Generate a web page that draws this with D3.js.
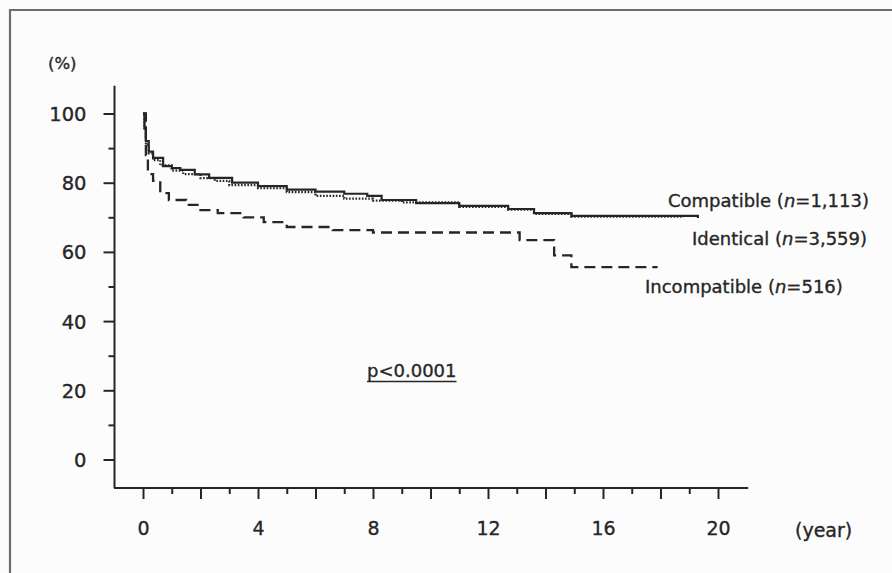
<!DOCTYPE html>
<html>
<head>
<meta charset="utf-8">
<script src="https://cdn.jsdelivr.net/npm/d3@7"></script>
<style>
  html, body { margin: 0; padding: 0; background: #fcfcfc; }
  svg { display: block; }
  text { font-family: "DejaVu Sans", "Liberation Sans", sans-serif; fill: #262626; stroke: #262626; stroke-width: 0.35px; }
</style>
</head>
<body>
<svg id="chart" width="892" height="573"></svg>
<script>
// Survival (%) by year, Kaplan-Meier style step curves
const compatibleYears = [0, 0.05, 0.1, 0.2, 0.35, 0.7, 1.0, 1.3, 1.8, 2.3, 3.1, 4, 5, 6, 7, 7.8, 8.3, 9.5, 11.0, 12.7, 13.6, 14.9, 19.3];
const compatibleValues = [100, 96, 92, 89, 87.2, 84.8, 84.2, 83.7, 82.4, 81.4, 80, 79, 78, 77.4, 76.8, 76.2, 75.0, 74.1, 73.3, 72.4, 71.2, 70.4, 69.8];

const identicalYears = [0, 0.05, 0.1, 0.2, 0.35, 0.6, 1.0, 1.4, 2.0, 2.5, 3.0, 4, 5, 6, 7, 8, 9, 11.0, 12.7, 13.6, 14.9, 18.8];
const identicalValues = [100, 95, 91, 88.5, 86.5, 85, 83.5, 82.5, 81.3, 80.5, 79.3, 78.4, 77.3, 76.2, 75.4, 74.8, 74.3, 73.0, 72.2, 71.0, 70.2, 70.2];

const incompatibleYears = [0, 0.1, 0.17, 0.35, 0.6, 0.9, 1.5, 2.0, 2.6, 3.5, 4.2, 5.0, 6.6, 8.0, 13.1, 14.3, 14.9, 17.9];
const incompatibleValues = [100, 88, 82.5, 80.5, 77, 75, 73.6, 72.1, 71.2, 70.0, 68.6, 67.2, 66.3, 65.6, 63.4, 59.0, 55.6, 55.6];

const seriesNames = ["Compatible", "Identical", "Incompatible"];
const seriesN = ["1,113", "3,559", "516"];

const yMajorTicks = [0, 20, 40, 60, 80, 100];
const yMinorTicks = [10, 30, 50, 70, 90];
const xMajorTicks = [0, 2, 4, 6, 8, 10, 12, 14, 16, 18, 20];
const xMinorTicks = [1, 3, 5, 7, 9, 11, 13, 15, 17, 19];
const xLabelTicks = [0, 4, 8, 12, 16, 20];

const pText = "p<0.0001";

const svg = d3.select("#chart");

// outer frame (top and left edges)
svg.append("path")
  .attr("d", "M10,573 L10,10 L892,10")
  .attr("fill", "none").attr("stroke", "#6e6e6e").attr("stroke-width", 2.2);

const x = d3.scaleLinear().domain([0, 20]).range([143, 718]);
const y = d3.scaleLinear().domain([0, 100]).range([459.5, 113.5]);

const ink = "#262626";
const fontFam = "'DejaVu Sans', 'Liberation Sans', sans-serif";

// axis lines
const axisX1 = x(21.05);
const axisY0 = y(108), axisY1 = 488;
svg.append("line").attr("x1", 114.5).attr("x2", 114.5).attr("y1", axisY0).attr("y2", axisY1)
  .attr("stroke", ink).attr("stroke-width", 2);
svg.append("line").attr("x1", 114).attr("x2", axisX1).attr("y1", axisY1).attr("y2", axisY1)
  .attr("stroke", ink).attr("stroke-width", 2);

// y axis ticks and labels
const yAxisMajor = d3.axisLeft(y).tickValues(yMajorTicks).tickSize(11).tickPadding(17).tickFormat(d3.format("d"));
const yAxisMinor = d3.axisLeft(y).tickValues(yMinorTicks).tickSize(6).tickFormat("");
const gy = svg.append("g").attr("transform", "translate(114.5,0)");
gy.call(yAxisMajor);
const gy2 = svg.append("g").attr("transform", "translate(114.5,0)");
gy2.call(yAxisMinor);
[gy, gy2].forEach(g => {
  g.select(".domain").remove();
  g.selectAll(".tick line").attr("stroke", ink).attr("stroke-width", 2);
});
gy.selectAll(".tick text")
  .style("font-family", fontFam).style("font-size", "19.5px")
  .attr("fill", ink).attr("dy", "0.36em");

// x axis ticks and labels
const xAxisMajor = d3.axisBottom(x).tickValues(xMajorTicks).tickSize(11)
  .tickFormat(d => xLabelTicks.includes(d) ? d : "").tickPadding(23);
const xAxisMinor = d3.axisBottom(x).tickValues(xMinorTicks).tickSize(6).tickFormat("");
const gx = svg.append("g").attr("transform", `translate(0,${axisY1})`);
gx.call(xAxisMajor);
const gx2 = svg.append("g").attr("transform", `translate(0,${axisY1})`);
gx2.call(xAxisMinor);
[gx, gx2].forEach(g => {
  g.select(".domain").remove();
  g.selectAll(".tick line").attr("stroke", ink).attr("stroke-width", 2);
});
gx.selectAll(".tick text")
  .style("font-family", fontFam).style("font-size", "19px").attr("fill", ink);

// unit labels
svg.append("text").attr("x", 48).attr("y", 69).text("(%)")
  .style("font-size", "16.5px");
svg.append("text").attr("x", 795).attr("y", 537).text("(year)")
  .style("font-size", "19px");

// survival curves
const stepLine = d3.line().x(d => x(d[0])).y(d => y(d[1])).curve(d3.curveStepAfter);
const zip = (a, b) => a.map((v, i) => [v, b[i]]);

svg.append("path").datum(zip(incompatibleYears, incompatibleValues))
  .attr("d", stepLine).attr("fill", "none").attr("stroke", ink)
  .attr("stroke-width", 2.3).attr("stroke-dasharray", "11,6");

svg.append("path").datum(zip(identicalYears, identicalValues))
  .attr("d", stepLine).attr("fill", "none").attr("stroke", ink)
  .attr("stroke-width", 2.2).attr("stroke-dasharray", "1.6,1.6");

svg.append("path").datum(zip(compatibleYears, compatibleValues))
  .attr("d", stepLine).attr("fill", "none").attr("stroke", ink)
  .attr("stroke-width", 2.2);

// series labels
const labelPos = [[668, 207], [692, 245], [645, 293]];
seriesNames.forEach((name, i) => {
  const t = svg.append("text").attr("x", labelPos[i][0]).attr("y", labelPos[i][1])
    .style("font-size", "18px");
  t.append("tspan").text(name + " (");
  t.append("tspan").style("font-style", "italic").text("n");
  t.append("tspan").text("=" + seriesN[i] + ")");
});

// p-value with underline
const pt = svg.append("text").attr("x", 367).attr("y", 377).text(pText)
  .style("font-size", "18px");
const pw = pt.node().getComputedTextLength();
svg.append("line").attr("x1", 367).attr("x2", 367 + pw).attr("y1", 381.5).attr("y2", 381.5)
  .attr("stroke", ink).attr("stroke-width", 1.6);
</script>
</body>
</html>
